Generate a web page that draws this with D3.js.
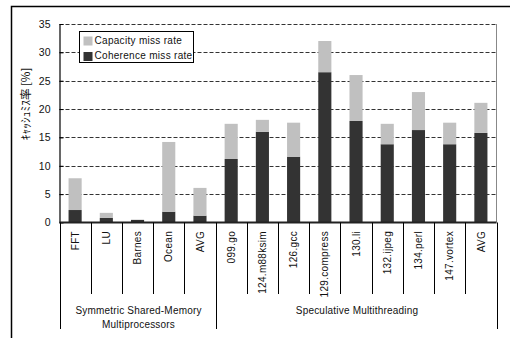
<!DOCTYPE html>
<html>
<head>
<meta charset="utf-8">
<script src="https://cdn.jsdelivr.net/npm/d3@7"></script>
<style>
  html, body { margin: 0; padding: 0; background: #fff; }
  svg { display: block; }
  text { font-family: "Liberation Sans", Arial, sans-serif; fill: #111; }
</style>
</head>
<body>
<svg id="chart" width="510" height="338"></svg>
<script>
// Benchmarks, in drawing order
const categories = ["FFT", "LU", "Barnes", "Ocean", "AVG",
  "099.go", "124.m88ksim", "126.gcc", "129.compress", "130.li",
  "132.ijpeg", "134.perl", "147.vortex", "AVG "];
// Miss rates [%]
const coherence = [2.2, 0.8, 0.45, 1.9, 1.2, 11.2, 16.0, 11.6, 26.5, 17.9, 13.8, 16.3, 13.8, 15.8];
const capacity  = [5.6, 0.9, 0.05, 12.3, 4.9, 6.2, 2.1, 6.0, 5.5, 8.1, 3.6, 6.7, 3.8, 5.3];
const yTicks = [0, 5, 10, 15, 20, 25, 30, 35];
const seriesNames = ["Capacity miss rate", "Coherence miss rate"];
const seriesColors = ["#c0c0c0", "#333333"];
// Benchmark groups: [first index, count, label lines]
const groups = [
  { start: 0, count: 5, lines: ["Symmetric Shared-Memory", "Multiprocessors"] },
  { start: 5, count: 9, lines: ["Speculative Multithreading"] }
];

const svg = d3.select("#chart");
const m = { left: 59.5, right: 496.5, top: 24, bottom: 222.5 };

const x = d3.scaleBand().domain(categories).range([m.left, m.right]).paddingInner(0.58).paddingOuter(0.29);
const xBand = d3.scaleBand().domain(categories).range([m.left, m.right]);
const y = d3.scaleLinear().domain([0, 35]).range([m.bottom, m.top]);

// Outer frame
svg.append("path").attr("d", "M11.5,338 V6.5 H510").attr("fill", "none")
  .attr("stroke", "#000").attr("stroke-width", 1.5);

// Dashed grid lines
svg.append("g").selectAll("line").data(yTicks.filter(d => d > 0)).join("line")
  .attr("x1", m.left).attr("x2", m.right)
  .attr("y1", d => Math.round(y(d)) + 0.5).attr("y2", d => Math.round(y(d)) + 0.5)
  .attr("stroke", "#333").attr("stroke-width", 1).attr("stroke-dasharray", "4,2");

// Right border of plot area
svg.append("line").attr("x1", m.right).attr("x2", m.right).attr("y1", m.top).attr("y2", m.bottom)
  .attr("stroke", "#888").attr("stroke-width", 1);

// Stacked bars
const stackData = categories.map((c, i) => ({ cat: c, coherence: coherence[i], capacity: capacity[i] }));
const stack = d3.stack().keys(["coherence", "capacity"])(stackData);
const colorFor = { coherence: seriesColors[1], capacity: seriesColors[0] };
svg.append("g").selectAll("g").data(stack).join("g")
  .attr("fill", d => colorFor[d.key])
  .selectAll("rect").data(d => d).join("rect")
  .attr("x", d => x(d.data.cat))
  .attr("width", x.bandwidth())
  .attr("y", d => y(d[1]))
  .attr("height", d => y(d[0]) - y(d[1]));

// Y axis
const yAxis = svg.append("g").attr("transform", `translate(${m.left},0)`)
  .call(d3.axisLeft(y).tickValues(yTicks).tickSize(0).tickPadding(9));
yAxis.select(".domain").attr("stroke", "#000").attr("stroke-width", 1.2);
yAxis.selectAll("text").attr("font-size", 10.5).attr("fill", "#111")
  .attr("font-family", "Liberation Sans, Arial, sans-serif");
yAxis.selectAll(".tick").append("line").attr("x1", 0).attr("x2", 4).attr("stroke", "#000");

// Y axis title (half-width katakana)
svg.append("text")
  .attr("transform", "translate(27,104) rotate(-90)")
  .attr("text-anchor", "middle").attr("dominant-baseline", "middle")
  .attr("font-size", 11.5)
  .style("font-family", "'Noto Sans CJK JP', sans-serif")
  .text("ｷｬｯｼｭﾐｽ率 [%]");

// X axis baseline
svg.append("line").attr("x1", m.left).attr("x2", m.right).attr("y1", m.bottom).attr("y2", m.bottom)
  .attr("stroke", "#222").attr("stroke-width", 2);

// Category dividers
const groupEdges = new Set();
groups.forEach(g => { groupEdges.add(g.start); groupEdges.add(g.start + g.count); });
const edges = d3.range(categories.length + 1);
svg.append("g").selectAll("line").data(edges).join("line")
  .attr("x1", i => Math.round(i < categories.length ? xBand(categories[i]) : m.right) + 0.5)
  .attr("x2", i => Math.round(i < categories.length ? xBand(categories[i]) : m.right) + 0.5)
  .attr("y1", m.bottom)
  .attr("y2", i => groupEdges.has(i) ? 329 : 294)
  .attr("stroke", "#000").attr("stroke-width", 1);

// Category labels
svg.append("g").selectAll("text").data(categories).join("text")
  .attr("transform", d => `translate(${xBand(d) + xBand.bandwidth() / 2 + 1},231) rotate(-90)`)
  .attr("text-anchor", "end").attr("dominant-baseline", "middle")
  .attr("font-size", 10).attr("letter-spacing", 0.3)
  .text(d => d.trim());

// Group labels
groups.forEach(g => {
  const x0 = xBand(categories[g.start]);
  const x1 = g.start + g.count < categories.length ? xBand(categories[g.start + g.count]) : m.right;
  const t = svg.append("text").attr("x", (x0 + x1) / 2 + 1).attr("y", 314)
    .attr("text-anchor", "middle").attr("font-size", 10).attr("letter-spacing", 0.2);
  g.lines.forEach((ln, k) => {
    t.append("tspan").attr("x", (x0 + x1) / 2 + 1).attr("dy", k === 0 ? 0 : 14).text(ln);
  });
});

// Legend
const lg = svg.append("g").attr("transform", "translate(79.5,31.5)");
lg.append("rect").attr("width", 114).attr("height", 31).attr("fill", "#fff")
  .attr("stroke", "#000").attr("stroke-width", 1);
seriesNames.forEach((name, i) => {
  lg.append("rect").attr("x", 4).attr("y", 5 + i * 15.5).attr("width", 9).attr("height", 9)
    .attr("fill", seriesColors[i]);
  lg.append("text").attr("x", 15).attr("y", 9.5 + i * 15.5)
    .attr("dominant-baseline", "middle").attr("font-size", 10).attr("letter-spacing", 0.3).text(name);
});
</script>
</body>
</html>
